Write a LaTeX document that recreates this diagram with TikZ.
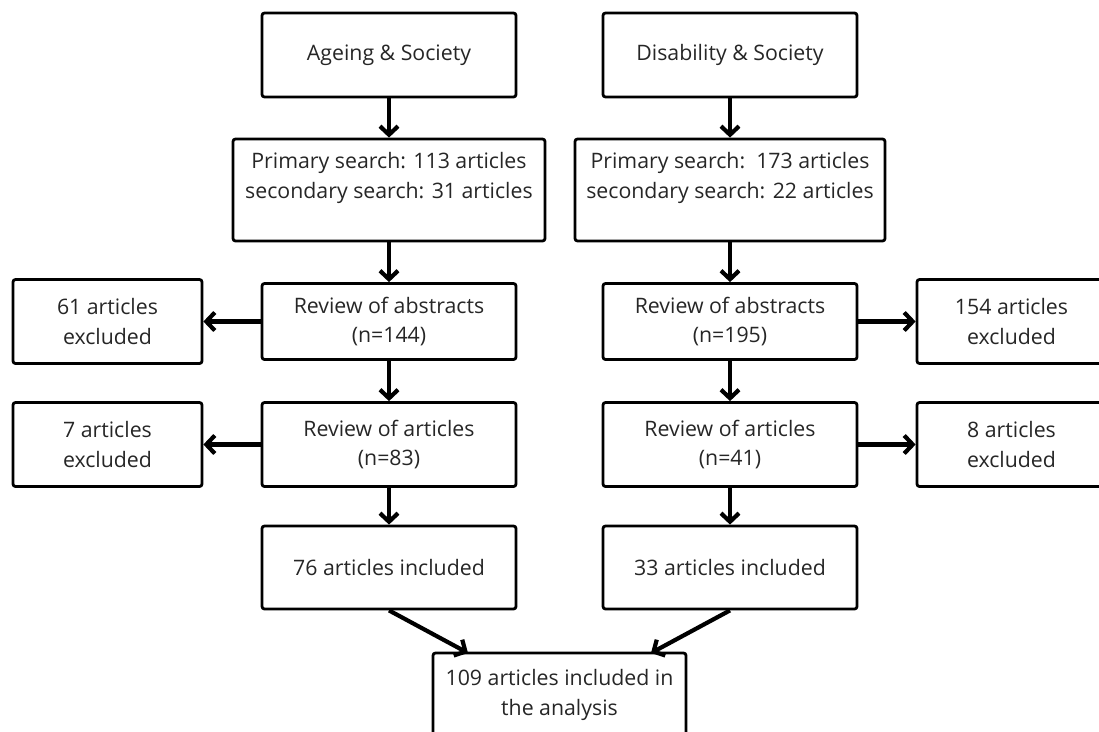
\documentclass[tikz,border=0pt]{standalone}
\usepackage{fontspec}
\setmainfont{Open Sans}
\usetikzlibrary{arrows.meta}
\tikzset{
  box/.style={draw, line width=2.8pt, rounded corners=2.5pt, align=center, inner sep=0pt,
    font=\fontsize{21.3}{29.5}\selectfont, text=black!85},
  colbox/.style={box, minimum width=254, minimum height=84},
  exbox/.style={box, minimum width=189, minimum height=84},
  flow/.style={line width=4.2pt, -{Straight Barb[length=8.5pt,width=18pt]}}
}
\begin{document}
\begin{tikzpicture}[x=1pt,y=-1pt]
\useasboundingbox (0,0) rectangle (1099,731);
\clip (0,0) rectangle (1099,731);
\pgfmathsetmacro\colL{389}
\pgfmathsetmacro\colR{730}
\node[colbox] (ageing) at (\colL,55) {Ageing \& Society};
\node[colbox] (disab) at (\colR,55) {Disability \& Society};
\node[box, minimum width=312, minimum height=102] (searchL) at (\colL,190) {Primary search: 113 articles\\secondary search: 31 articles\\\mbox{}};
\node[box, minimum width=310, minimum height=102] (searchR) at (\colR,190) {Primary search:~~173 articles\\secondary search: 22 articles\\\mbox{}};
\node[colbox, minimum height=76] (absL) at (\colL,321.5) {Review of abstracts\\(n=144)};
\node[colbox, minimum height=76] (absR) at (\colR,321.5) {Review of abstracts\\(n=195)};
\node[exbox] (exabsL) at (107.5,321.5) {61 articles\\excluded};
\node[exbox] (exabsR) at (1011.5,321.5) {154 articles\\excluded};
\node[colbox] (artL) at (\colL,444.5) {Review of articles\\(n=83)};
\node[colbox] (artR) at (\colR,444.5) {Review of articles\\(n=41)};
\node[exbox] (exartL) at (107.5,444.5) {7 articles\\excluded};
\node[exbox] (exartR) at (1011.5,444.5) {8 articles\\excluded};
\node[colbox, minimum height=83] (inclL) at (\colL,567.5) {76 articles included};
\node[colbox, minimum height=83] (inclR) at (\colR,567.5) {33 articles included};
\node[colbox, minimum width=253] (final) at (559.5,695) {109 articles included in\\the analysis};
\coordinate (finL) at (468,653);
\coordinate (finR) at (651,653);
\foreach \a/\b in {ageing/searchL, searchL/absL, absL/artL, artL/inclL,
                   disab/searchR, searchR/absR, absR/artR, artR/inclR}
  \draw[flow] (\a.south) -- (\b.north);
\draw[flow] (absL.west) -- (exabsL.east);
\draw[flow] (artL.west) -- (exartL.east);
\draw[flow] (absR.east) -- (exabsR.west);
\draw[flow] (artR.east) -- (exartR.west);
\draw[flow] (inclL.south) -- (finL);
\draw[flow] (inclR.south) -- (finR);
\end{tikzpicture}
\end{document}
